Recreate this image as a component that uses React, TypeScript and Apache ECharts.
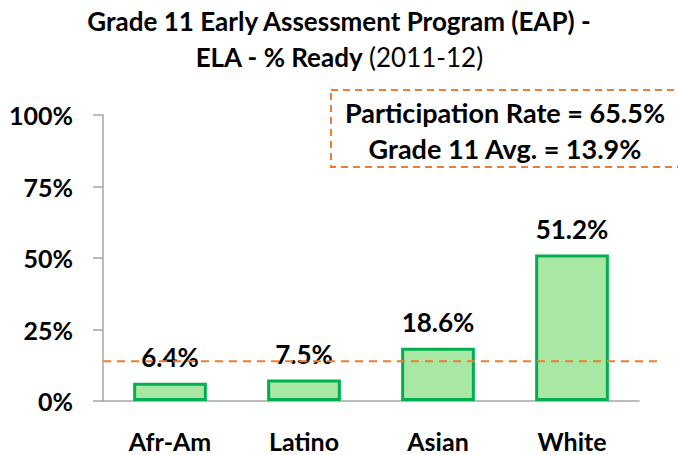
import React, { useEffect, useRef } from "react";
import * as echarts from "echarts";

const categories = ["Afr-Am", "Latino", "Asian", "White"];
const readyPct = [6.4, 7.5, 18.6, 51.2];
const yTicks = { min: 0, max: 100, interval: 25 };
const gradeAvg = 13.9;
const participationRate = 65.5;
const titleLine1 = "Grade 11 Early Assessment Program (EAP) -";
const titleLine2Bold = "ELA - % Ready";
const titleLine2Normal = "(2011-12)";

const FONT = "Lato, 'Open Sans', sans-serif";

export default function App() {
  const ref = useRef<HTMLDivElement>(null);
  useEffect(() => {
    if (!ref.current) return;
    const chart = echarts.init(ref.current, undefined, { renderer: "svg" });
    const grid = { left: 103, right: 39, top: 115, bottom: 54 };
    chart.setOption({
      animation: false,
      backgroundColor: "#ffffff",
      textStyle: { fontFamily: FONT },
      title: {
        left: "center",
        top: 3,
        padding: 0,
        text: `{b|${titleLine1}}\n{b|${titleLine2Bold} }{n|${titleLine2Normal}}`,
        textStyle: {
          rich: {
            b: { fontFamily: FONT, fontWeight: "bold", fontSize: 26, color: "#000", lineHeight: 36 },
            n: { fontFamily: FONT, fontWeight: "normal", fontSize: 26, color: "#000", lineHeight: 36 },
          },
        },
      },
      grid: [
        { ...grid },
        { left: 103, right: 18, top: 115, bottom: 54 },
      ],
      xAxis: [
        {
          type: "category",
          data: categories,
          gridIndex: 0,
          axisLine: { lineStyle: { color: "#A6A6A6", width: 1.5 } },
          axisTick: { show: false },
          axisLabel: {
            color: "#000",
            fontFamily: FONT,
            fontWeight: "bold",
            fontSize: 25,
            lineHeight: 25,
            margin: 27,
          },
        },
        { type: "value", gridIndex: 1, min: 0, max: 1, show: false },
      ],
      yAxis: [
        {
          type: "value",
          gridIndex: 0,
          min: yTicks.min,
          max: yTicks.max,
          interval: yTicks.interval,
          axisLine: { show: true, lineStyle: { color: "#A6A6A6", width: 1.5 } },
          axisTick: { show: true, length: 10, lineStyle: { color: "#A6A6A6", width: 1.5 } },
          splitLine: { show: false },
          axisLabel: {
            formatter: "{value}%",
            color: "#000",
            fontFamily: FONT,
            fontWeight: "bold",
            fontSize: 25,
            margin: 30,
          },
        },
        { type: "value", gridIndex: 1, min: yTicks.min, max: yTicks.max, show: false },
      ],
      series: [
        {
          type: "bar",
          xAxisIndex: 0,
          yAxisIndex: 0,
          data: readyPct,
          barWidth: "55%",
          itemStyle: { color: "#A9E8A4", borderColor: "#00B050", borderWidth: 3 },
          label: {
            show: true,
            position: "top",
            distance: 13,
            formatter: (p: any) => `${p.value.toFixed(1)}%`,
            color: "#000",
            fontFamily: FONT,
            fontWeight: "bold",
            fontSize: 26,
          },
          z: 2,
        },
        {
          type: "line",
          xAxisIndex: 1,
          yAxisIndex: 1,
          data: [
            [0, gradeAvg],
            [1, gradeAvg],
          ],
          symbol: "none",
          lineStyle: { color: "#ED7D31", width: 2, type: [8, 6] },
          z: 3,
          silent: true,
        },
      ],
      graphic: [
        {
          type: "rect",
          shape: { x: 331, y: 90, width: 360, height: 77 },
          style: { fill: "none", stroke: "#ED7D31", lineWidth: 2, lineDash: [7, 5] },
        },
        {
          type: "text",
          x: 505,
          y: 112,
          style: {
            text: `Participation Rate = ${participationRate.toFixed(1)}%`,
            fill: "#000",
            font: `bold 27px ${FONT}`,
            textAlign: "center",
            textVerticalAlign: "middle",
          },
        },
        {
          type: "text",
          x: 505,
          y: 148,
          style: {
            text: `Grade 11 Avg. = ${gradeAvg.toFixed(1)}%`,
            fill: "#000",
            font: `bold 27px ${FONT}`,
            textAlign: "center",
            textVerticalAlign: "middle",
          },
        },
      ],
    });
    return () => chart.dispose();
  }, []);
  return <div ref={ref} style={{ width: 678, height: 455, position: "absolute", left: 0, top: 0 }} />;
}
